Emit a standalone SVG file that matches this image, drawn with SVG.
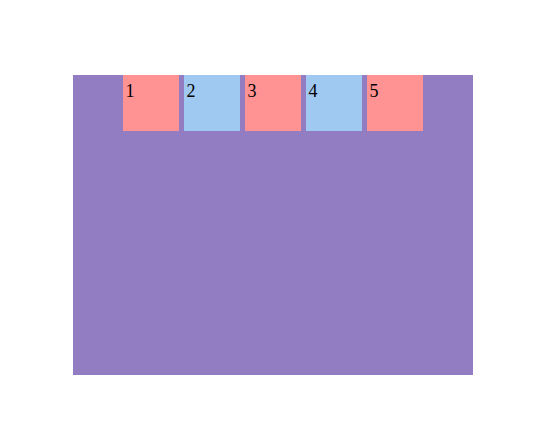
<svg xmlns="http://www.w3.org/2000/svg" width="539" height="440" viewBox="0 0 539 440">
<style>
.pink{fill:#ff9393}
.blue{fill:#a0c9f2}
text{font-family:"Liberation Serif","DejaVu Serif",serif;font-size:18px;fill:#000}
</style>
<rect id="container" x="73" y="75" width="400" height="300" fill="#927dc3"/>
<g id="item1"><rect class="pink" x="123" y="75" width="56" height="56"/><text x="125.5" y="96.5">1</text></g>
<g id="item2"><rect class="blue" x="184" y="75" width="56" height="56"/><text x="186.5" y="96.5">2</text></g>
<g id="item3"><rect class="pink" x="245" y="75" width="56" height="56"/><text x="247.5" y="96.5">3</text></g>
<g id="item4"><rect class="blue" x="306" y="75" width="56" height="56"/><text x="308.5" y="96.5">4</text></g>
<g id="item5"><rect class="pink" x="367" y="75" width="56" height="56"/><text x="369.5" y="96.5">5</text></g>
<g id="connectors"/>
</svg>
